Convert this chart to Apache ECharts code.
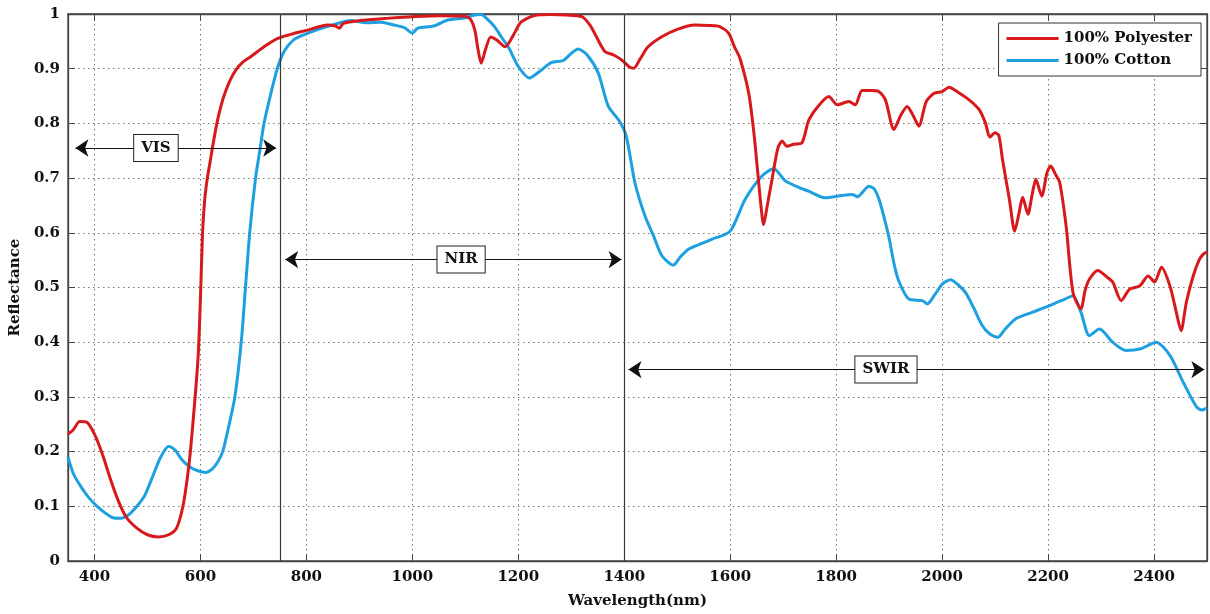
<!DOCTYPE html>
<html>
<head>
<meta charset="utf-8">
<script src="https://cdn.jsdelivr.net/npm/echarts@6/dist/echarts.min.js"></script>
<style>
  html, body { margin: 0; padding: 0; background: #fff; }
  #chart { width: 1210px; height: 614px; }
</style>
</head>
<body>
<div id="chart"></div>
<script>
// Reflectance spectra of two fabrics (wavelength in nm)
const polyesterNm = [350,360,372,385,400,415,430,445,460,480,500,520,540,555,567,575,581,590,596,600,604,608,613,618,622,630,637,644,655,667,680,695,720,745,775,800,840,855,862,870,900,950,1000,1050,1100,1110,1118,1124,1130,1138,1148,1160,1175,1190,1205,1230,1260,1290,1320,1335,1345,1363,1380,1395,1410,1418,1430,1445,1470,1500,1533,1560,1580,1597,1608,1618,1635,1645,1652,1658,1663,1670,1679,1690,1698,1707,1720,1735,1748,1765,1786,1802,1824,1836,1849,1865,1881,1893,1909,1922,1934,1945,1956,1970,1985,2000,2013,2030,2051,2070,2082,2090,2100,2107,2114,2127,2137,2146,2152,2162,2170,2177,2188,2198,2205,2215,2222,2234,2247,2262,2270,2278,2294,2310,2322,2338,2354,2373,2389,2401,2414,2430,2442,2451,2461,2474,2485,2493,2500];
const polyesterR = [0.232,0.240,0.255,0.254,0.232,0.195,0.150,0.110,0.080,0.060,0.048,0.044,0.048,0.060,0.100,0.150,0.200,0.300,0.380,0.480,0.600,0.660,0.700,0.728,0.752,0.795,0.825,0.849,0.877,0.898,0.912,0.922,0.940,0.955,0.964,0.970,0.980,0.978,0.974,0.983,0.988,0.992,0.995,0.997,0.996,0.990,0.970,0.935,0.910,0.935,0.958,0.952,0.940,0.960,0.985,0.997,0.999,0.998,0.995,0.980,0.963,0.932,0.925,0.916,0.903,0.901,0.918,0.940,0.958,0.972,0.980,0.979,0.977,0.965,0.940,0.920,0.855,0.780,0.710,0.650,0.615,0.650,0.698,0.755,0.768,0.758,0.762,0.764,0.805,0.830,0.849,0.834,0.840,0.834,0.860,0.860,0.858,0.843,0.789,0.815,0.831,0.815,0.795,0.840,0.855,0.858,0.866,0.857,0.843,0.825,0.800,0.775,0.783,0.778,0.734,0.661,0.603,0.640,0.665,0.634,0.670,0.698,0.667,0.710,0.722,0.705,0.692,0.613,0.491,0.461,0.495,0.515,0.531,0.520,0.510,0.476,0.497,0.503,0.521,0.510,0.537,0.503,0.455,0.421,0.473,0.521,0.550,0.561,0.565];

const cottonNm = [350,360,375,390,405,420,435,450,465,480,495,510,525,540,552,565,580,595,610,622,632,642,652,665,677,685,693,704,712,720,733,745,758,775,790,820,860,884,915,940,965,985,1000,1010,1040,1067,1100,1117,1130,1140,1155,1168,1181,1200,1221,1240,1262,1285,1300,1313,1330,1351,1370,1391,1404,1420,1439,1455,1471,1493,1505,1521,1545,1565,1600,1628,1660,1682,1704,1725,1748,1779,1810,1830,1840,1862,1872,1881,1890,1900,1910,1919,1937,1963,1972,1985,2000,2016,2030,2044,2060,2076,2090,2105,2120,2139,2171,2203,2230,2247,2262,2278,2297,2322,2347,2375,2404,2430,2455,2480,2490,2500];
const cottonR = [0.190,0.160,0.135,0.115,0.100,0.088,0.079,0.078,0.085,0.100,0.120,0.155,0.190,0.210,0.203,0.185,0.172,0.165,0.162,0.168,0.180,0.200,0.240,0.300,0.400,0.500,0.600,0.700,0.750,0.800,0.855,0.900,0.932,0.952,0.960,0.971,0.983,0.988,0.984,0.985,0.980,0.975,0.965,0.974,0.978,0.989,0.993,0.998,0.999,0.992,0.977,0.958,0.940,0.904,0.883,0.895,0.911,0.915,0.928,0.936,0.925,0.892,0.831,0.804,0.776,0.692,0.631,0.595,0.558,0.541,0.555,0.570,0.580,0.588,0.603,0.661,0.704,0.717,0.695,0.685,0.676,0.664,0.668,0.670,0.666,0.685,0.680,0.661,0.630,0.590,0.540,0.510,0.479,0.476,0.470,0.485,0.506,0.514,0.505,0.491,0.462,0.430,0.415,0.409,0.425,0.443,0.455,0.467,0.478,0.485,0.455,0.412,0.424,0.400,0.385,0.388,0.400,0.376,0.327,0.282,0.276,0.280];

const seriesNames = ['100% Polyester', '100% Cotton'];
const seriesColors = ['#d7191c', '#1d9fe0'];

// Spectral region boundaries and their labelled spans
const regionBounds = [750, 1400];
const regionNames = ['VIS', 'NIR', 'SWIR'];
const regionSpans = [[364, 743], [760, 1395], [1408, 2495]];
const regionLevels = [0.755, 0.551, 0.350];
const regionLabelAt = [516, 1092, 1894];

// Axis ranges and tick positions
const xMin = 350, xMax = 2500;
const xTicks = [400, 600, 800, 1000, 1200, 1400, 1600, 1800, 2000, 2200, 2400];
const yMin = 0, yMax = 1, yStep = 0.1;

const FONT = '"DejaVu Serif", "Liberation Serif", serif';

const pairs = (xs, ys) => xs.map((x, i) => [x, ys[i]]);

const chart = echarts.init(document.getElementById('chart'), null, { renderer: 'canvas' });

const gridLine = { show: true, lineStyle: { color: '#777', type: [1.5, 3.5], width: 1 } };
const axisLineStyle = { show: true, onZero: false, lineStyle: { color: '#444', width: 1.3 } };
const innerTick = { show: true, inside: true, length: 7, lineStyle: { color: '#444' } };
const labelFont = { fontFamily: FONT, fontWeight: 'bold', fontSize: 15, color: '#111' };

const option = {
  animation: false,
  backgroundColor: '#fff',
  grid: { left: 67, right: 3, top: 14, bottom: 51, show: true, borderColor: '#444', borderWidth: 1.3, backgroundColor: 'transparent' },
  legend: {
    data: seriesNames,
    orient: 'vertical',
    right: 9,
    top: 23,
    backgroundColor: '#fff',
    borderColor: '#333',
    borderWidth: 1,
    padding: [8, 9, 8, 8],
    itemGap: 7,
    icon: 'rect',
    itemWidth: 52,
    itemHeight: 3,
    textStyle: labelFont
  },
  xAxis: [{
    type: 'value', min: xMin, max: xMax,
    name: 'Wavelength(nm)', nameLocation: 'middle', nameGap: 33,
    nameTextStyle: labelFont,
    axisLine: axisLineStyle,
    axisTick: Object.assign({ customValues: xTicks }, innerTick),
    axisLabel: Object.assign({ customValues: xTicks, margin: 9, formatter: v => String(v) }, labelFont),
    splitLine: gridLine
  }, {
    type: 'value', position: 'top', min: xMin, max: xMax,
    axisLine: axisLineStyle,
    axisTick: Object.assign({ customValues: xTicks }, innerTick),
    axisLabel: { show: false, customValues: xTicks },
    splitLine: { show: false }
  }],
  yAxis: [{
    type: 'value', min: yMin, max: yMax, interval: yStep,
    name: 'Reflectance', nameLocation: 'middle', nameGap: 37,
    nameTextStyle: labelFont,
    axisLine: axisLineStyle,
    axisTick: innerTick,
    axisLabel: Object.assign({
      margin: 8,
      formatter: v => (Math.abs(v) < 1e-9 ? '0' : Math.abs(v - 1) < 1e-9 ? '1' : v.toFixed(1))
    }, labelFont),
    splitLine: gridLine
  }, {
    type: 'value', position: 'right', min: yMin, max: yMax, interval: yStep,
    axisLine: axisLineStyle,
    axisTick: innerTick,
    axisLabel: { show: false },
    splitLine: { show: false }
  }],
  series: [
    {
      name: 'regions',
      type: 'line',
      data: [],
      silent: true,
      markLine: {
        silent: true,
        animation: false,
        symbol: ['none', 'none'],
        label: { show: false },
        lineStyle: { color: '#3a3a3a', type: 'solid', width: 1.2 },
        data: regionBounds.map(x => [{ coord: [x, yMin] }, { coord: [x, yMax] }])
      },
      z: 1
    },
    {
      name: 'spans',
      type: 'line',
      data: [],
      silent: true,
      markLine: {
        silent: true,
        animation: false,
        symbol: ['arrow', 'arrow'],
        symbolSize: 13,
        label: { show: false },
        lineStyle: { color: '#111', type: 'solid', width: 1 },
        data: regionSpans.map((s, i) => [
          { coord: [s[0], regionLevels[i]] },
          { coord: [s[1], regionLevels[i]] }
        ])
      },
      markPoint: {
        silent: true,
        animation: false,
        symbol: 'rect',
        symbolSize: 1,
        itemStyle: { color: 'transparent' },
        label: Object.assign({
          show: true,
          position: 'inside',
          formatter: p => p.name,
          backgroundColor: '#fff',
          borderColor: '#222', borderWidth: 1,
          padding: [6, 7, 5, 7]
        }, labelFont),
        data: regionNames.map((n, i) => ({ name: n, coord: [regionLabelAt[i], regionLevels[i]] }))
      },
      z: 6
    },
    {
      name: seriesNames[0],
      type: 'line',
      data: pairs(polyesterNm, polyesterR),
      showSymbol: false,
      symbol: 'none',
      smooth: 0.25,
      color: seriesColors[0],
      lineStyle: { width: 3, color: seriesColors[0], join: 'round' },
      z: 4
    },
    {
      name: seriesNames[1],
      type: 'line',
      data: pairs(cottonNm, cottonR),
      showSymbol: false,
      symbol: 'none',
      smooth: 0.25,
      color: seriesColors[1],
      lineStyle: { width: 3, color: seriesColors[1], join: 'round' },
      z: 3
    }
  ]
};

chart.setOption(option);
</script>
</body>
</html>
